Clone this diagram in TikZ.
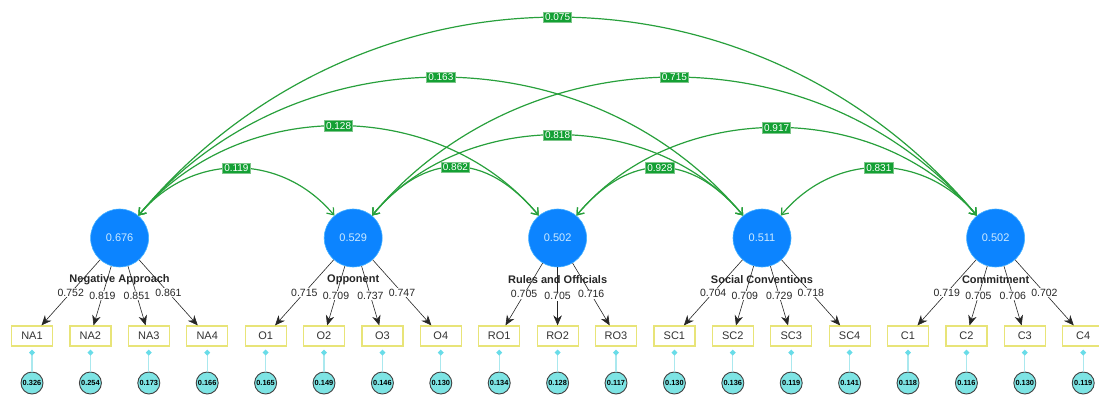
\documentclass[tikz,border=0pt]{standalone}
\usepackage{fontspec}
\setmainfont{Liberation Sans}
\usetikzlibrary{arrows.meta}
\definecolor{latblue}{RGB}{12,132,255}
\definecolor{latedge}{RGB}{70,178,255}
\definecolor{lattext}{RGB}{205,234,255}
\definecolor{indedge}{RGB}{232,228,120}
\definecolor{errfill}{RGB}{125,228,228}
\definecolor{errline}{RGB}{170,232,238}
\definecolor{errtip}{RGB}{105,220,232}
\definecolor{covgreen}{RGB}{40,160,60}
\definecolor{covbox}{RGB}{20,160,52}
\tikzset{
  lat/.style={circle,fill=latblue,draw=latedge,line width=0.6pt,minimum size=58pt,inner sep=0pt,text=lattext,font=\fontsize{11}{13}\selectfont},
  ind/.style={rectangle,draw=indedge,fill=white,line width=1.2pt,minimum width=41pt,minimum height=20pt,inner sep=0pt,text=black!80,font=\fontsize{11}{13}\selectfont},
  err/.style={circle,fill=errfill,draw=black!75,line width=0.9pt,minimum size=22pt,inner sep=0pt,font=\fontsize{7.4}{8}\bfseries\selectfont},
  fname/.style={font=\fontsize{11}{13}\bfseries\selectfont,text=black!85},
  load/.style={draw=black!85,line width=0.6pt,-{Stealth[length=10pt,width=8.5pt]}},
  ldlab/.style={fill=white,inner sep=0.8pt,font=\fontsize{10.5}{12}\selectfont,text=black!85},
  eload/.style={draw=errline,line width=1.2pt,-{Diamond[length=6pt,width=6pt,color=errtip]},shorten >=3pt},
  covbend/.style={bend left=50},
  cov/.style={covbend,draw=covgreen,line width=1.2pt,{Straight Barb[length=6pt,width=9pt]}-{Straight Barb[length=6pt,width=9pt]}},
  covlab/.style={fill=covbox,draw=covgreen!60,line width=0.5pt,text=white,inner sep=1.6pt,font=\fontsize{10}{12}\selectfont}
}
\begin{document}
\begin{tikzpicture}[x=1pt,y=1pt]
\useasboundingbox (0,0) rectangle (1099,394);

\node[lat] (NA) at (119.6,156) {0.676};
\node[lat] (O) at (353.2,156) {0.529};
\node[lat] (RO) at (557.6,156) {0.502};
\node[lat] (SC) at (762,156) {0.511};
\node[lat] (C) at (995.6,156) {0.502};

\node[ind] (NA1) at (32,58) {NA1};
\node[ind] (NA2) at (90.4,58) {NA2};
\node[ind] (NA3) at (148.8,58) {NA3};
\node[ind] (NA4) at (207.2,58) {NA4};
\node[ind] (O1) at (265.6,58) {O1};
\node[ind] (O2) at (324,58) {O2};
\node[ind] (O3) at (382.4,58) {O3};
\node[ind] (O4) at (440.8,58) {O4};
\node[ind] (RO1) at (499.2,58) {RO1};
\node[ind] (RO2) at (557.6,58) {RO2};
\node[ind] (RO3) at (616,58) {RO3};
\node[ind] (SC1) at (674.4,58) {SC1};
\node[ind] (SC2) at (732.8,58) {SC2};
\node[ind] (SC3) at (791.2,58) {SC3};
\node[ind] (SC4) at (849.6,58) {SC4};
\node[ind] (C1) at (908,58) {C1};
\node[ind] (C2) at (966.4,58) {C2};
\node[ind] (C3) at (1024.8,58) {C3};
\node[ind] (C4) at (1083.2,58) {C4};

\node[err] (eNA1) at (32,11) {0.326};
\node[err] (eNA2) at (90.4,11) {0.254};
\node[err] (eNA3) at (148.8,11) {0.173};
\node[err] (eNA4) at (207.2,11) {0.166};
\node[err] (eO1) at (265.6,11) {0.165};
\node[err] (eO2) at (324,11) {0.149};
\node[err] (eO3) at (382.4,11) {0.146};
\node[err] (eO4) at (440.8,11) {0.130};
\node[err] (eRO1) at (499.2,11) {0.134};
\node[err] (eRO2) at (557.6,11) {0.128};
\node[err] (eRO3) at (616,11) {0.117};
\node[err] (eSC1) at (674.4,11) {0.130};
\node[err] (eSC2) at (732.8,11) {0.136};
\node[err] (eSC3) at (791.2,11) {0.119};
\node[err] (eSC4) at (849.6,11) {0.141};
\node[err] (eC1) at (908,11) {0.118};
\node[err] (eC2) at (966.4,11) {0.116};
\node[err] (eC3) at (1024.8,11) {0.130};
\node[err] (eC4) at (1083.2,11) {0.119};

\draw[eload] (eNA1)--(NA1); \draw[eload] (eNA2)--(NA2); \draw[eload] (eNA3)--(NA3); \draw[eload] (eNA4)--(NA4);
\draw[eload] (eO1)--(O1); \draw[eload] (eO2)--(O2); \draw[eload] (eO3)--(O3); \draw[eload] (eO4)--(O4);
\draw[eload] (eRO1)--(RO1); \draw[eload] (eRO2)--(RO2); \draw[eload] (eRO3)--(RO3);
\draw[eload] (eSC1)--(SC1); \draw[eload] (eSC2)--(SC2); \draw[eload] (eSC3)--(SC3); \draw[eload] (eSC4)--(SC4);
\draw[eload] (eC1)--(C1); \draw[eload] (eC2)--(C2); \draw[eload] (eC3)--(C3); \draw[eload] (eC4)--(C4);

\draw[load] (NA)--(NA1) node[ldlab,midway]{0.752};
\draw[load] (NA)--(NA2) node[ldlab,midway]{0.819};
\draw[load] (NA)--(NA3) node[ldlab,midway]{0.851};
\draw[load] (NA)--(NA4) node[ldlab,midway]{0.861};
\draw[load] (O)--(O1) node[ldlab,midway]{0.715};
\draw[load] (O)--(O2) node[ldlab,midway]{0.709};
\draw[load] (O)--(O3) node[ldlab,midway]{0.737};
\draw[load] (O)--(O4) node[ldlab,midway]{0.747};
\draw[load] (RO)--(RO1) node[ldlab,midway]{0.705};
\draw[load] (RO)--(RO2) node[ldlab,midway]{0.705};
\draw[load] (RO)--(RO3) node[ldlab,midway]{0.716};
\draw[load] (SC)--(SC1) node[ldlab,midway]{0.704};
\draw[load] (SC)--(SC2) node[ldlab,midway]{0.709};
\draw[load] (SC)--(SC3) node[ldlab,midway]{0.729};
\draw[load] (SC)--(SC4) node[ldlab,midway]{0.718};
\draw[load] (C)--(C1) node[ldlab,midway]{0.719};
\draw[load] (C)--(C2) node[ldlab,midway]{0.705};
\draw[load] (C)--(C3) node[ldlab,midway]{0.706};
\draw[load] (C)--(C4) node[ldlab,midway]{0.702};

\node[fname] (nNA) at (119.6,114) {Negative Approach};
\node[fname] (nO) at (353.2,114) {Opponent};
\node[fname] (nRO) at (557.6,114) {Rules and Officials};
\node[fname] (nSC) at (762,114) {Social Conventions};
\node[fname] (nC) at (995.6,114) {Commitment};

\draw[cov,looseness=1.08] (NA) to (O);
\draw[cov] (NA) to (RO);
\draw[cov,looseness=1.02] (NA) to (SC);
\draw[cov,looseness=1.055] (NA) to (C);
\draw[cov,looseness=1.3] (O) to (RO);
\draw[cov,looseness=0.97] (O) to (SC);
\draw[cov,looseness=1.02] (O) to (C);
\draw[cov,looseness=1.28] (RO) to (SC);
\draw[cov,looseness=0.98] (RO) to (C);
\draw[cov,looseness=1.09] (SC) to (C);

\path[covbend,looseness=1.08] (NA) to node[covlab]{0.119} (O);
\path[covbend] (NA) to node[covlab]{0.128} (RO);
\path[covbend,looseness=1.02] (NA) to node[covlab]{0.163} (SC);
\path[covbend,looseness=1.055] (NA) to node[covlab]{0.075} (C);
\path[covbend,looseness=1.3] (O) to node[covlab]{0.862} (RO);
\path[covbend,looseness=0.97] (O) to node[covlab]{0.818} (SC);
\path[covbend,looseness=1.02] (O) to node[covlab]{0.715} (C);
\path[covbend,looseness=1.28] (RO) to node[covlab]{0.928} (SC);
\path[covbend,looseness=0.98] (RO) to node[covlab]{0.917} (C);
\path[covbend,looseness=1.09] (SC) to node[covlab]{0.831} (C);
\end{tikzpicture}
\end{document}
